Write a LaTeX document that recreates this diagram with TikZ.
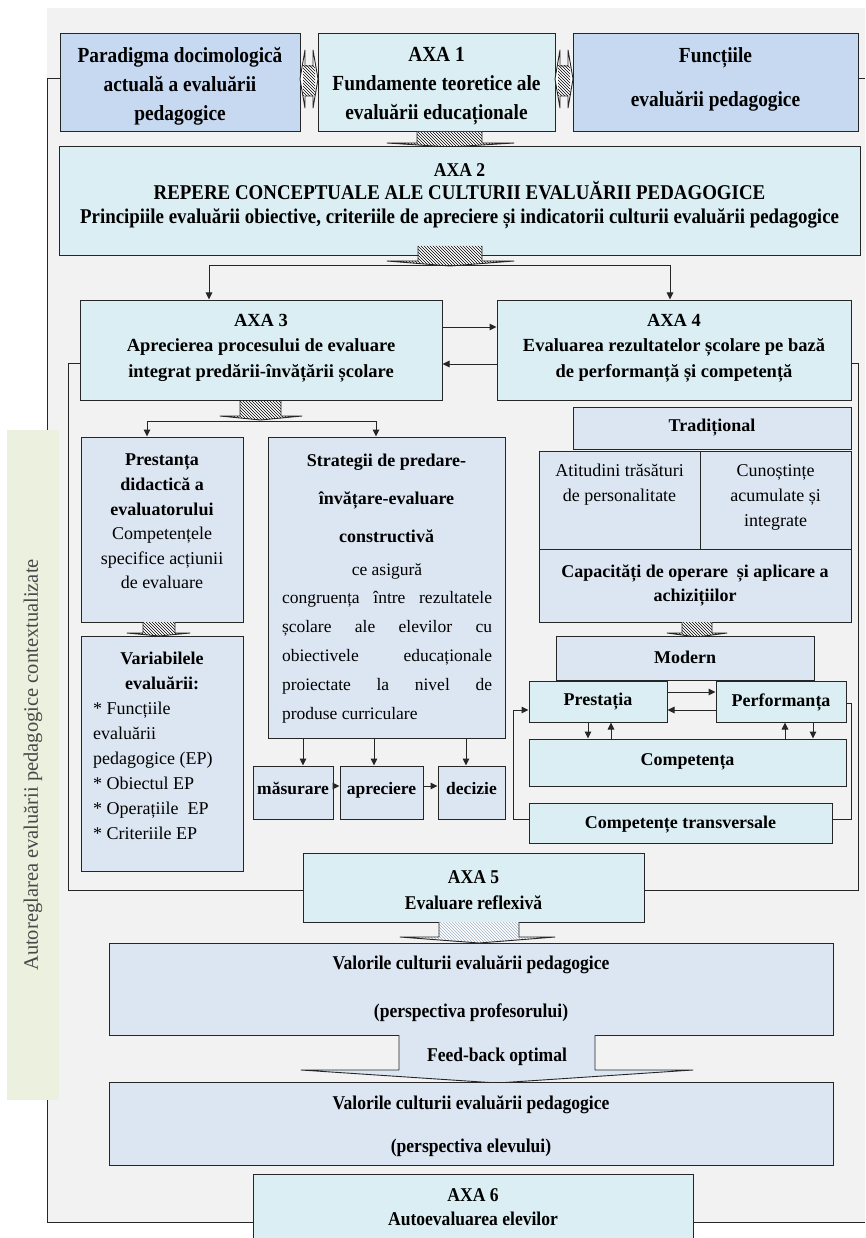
\documentclass[tikz,border=0pt]{standalone}
\usepackage{fontspec}
\setmainfont{Liberation Serif}
\newfontfamily\cnd[FakeStretch=0.9]{Liberation Serif}
\usetikzlibrary{arrows.meta,patterns}
\definecolor{bg}{HTML}{F2F2F2}
\definecolor{mblue}{HTML}{C6D9F1}
\definecolor{lcyan}{HTML}{DBEEF4}
\definecolor{lsteel}{HTML}{DCE6F2}
\definecolor{lgreen}{HTML}{EBF1DE}
\definecolor{ln}{HTML}{262626}
\definecolor{pale}{HTML}{9FB3C8}
\newcommand\fs[2]{\fontsize{#1}{#2}\selectfont}
\newcommand\bx[6]{\node[box,fill=#6,minimum width={(#4-#2)*1pt},minimum height={(#5-#3)*1pt}] (#1) at ({(#2+#4)/2},{(#3+#5)/2}) {};}
% hatched down arrow: x1,x2,ytop,ybase,hx1,hx2,tip,pattern colour
\newcommand\hdown[8]{%
 \path[fill=white] (#1,#3) -- (#2,#3) -- (#2,#4) -- (#6,#4) -- ({(#1+#2)/2},#7) -- (#5,#4) -- (#1,#4) -- cycle;
 \path[pattern=north west lines,pattern color=#8] (#1,#3) -- (#2,#3) -- (#2,#4) -- (#6,#4) -- ({(#1+#2)/2},#7) -- (#5,#4) -- (#1,#4) -- cycle;
 \draw[ln,line width=0.9pt,line join=round] (#1,#3) -- (#1,#4) -- (#5,#4) -- ({(#1+#2)/2},#7) -- (#6,#4) -- (#2,#4) -- (#2,#3);}
% hatched left-right arrow: xl,xr,yc
\newcommand\hlr[3]{%
 \path[fill=white] (#1,#3) -- ({#1+5},{#3-29}) -- ({#1+5},{#3-13}) -- ({#2-5},{#3-13}) -- ({#2-5},{#3-29}) -- (#2,#3) -- ({#2-5},{#3+29}) -- ({#2-5},{#3+17}) -- ({#1+5},{#3+17}) -- ({#1+5},{#3+29}) -- cycle;
 \path[pattern=north west lines,pattern color=black] ({#1+3},{#3-13}) rectangle ({#2-3},{#3+17});
 \draw[ln,line width=0.9pt,line join=round] (#1,#3) -- ({#1+5},{#3-29}) -- ({#1+5},{#3-13}) -- ({#2-5},{#3-13}) -- ({#2-5},{#3-29}) -- (#2,#3) -- ({#2-5},{#3+29}) -- ({#2-5},{#3+17}) -- ({#1+5},{#3+17}) -- ({#1+5},{#3+29}) -- cycle;}
\begin{document}
\begin{tikzpicture}[x=1pt,y=-1pt,
  box/.style={draw=ln,line width=1pt,inner sep=0pt},
  txt/.style={inner sep=0pt,align=center,text=black},
  conn/.style={draw=ln,line width=1pt},
  arr/.style={conn,-{Triangle[length=7pt,width=6.5pt]}},
  rowA/.style={txt,font=\cnd\bfseries\fs{21.5}{29}},
  cb/.style={txt,font=\bfseries\fs{18.5}{25.5}},
  cn/.style={txt,font=\fs{18}{25}},
  tb/.style={txt,font=\cnd\bfseries\fs{19.5}{26}},
  sb/.style={txt,font=\bfseries\fs{18}{24}}]
\useasboundingbox (0,0) rectangle (865,1238);
\fill[white] (0,0) rectangle (865,1238);
\fill[bg] (47,8) rectangle (865,1222);

% ---------- row 1
\bx{parad}{60}{34}{300}{132}{mblue}
\bx{axa1}{318}{34}{555}{132}{lcyan}
\bx{func}{573}{34}{858}{132}{mblue}
\node[rowA] (paradt) at (180,86) {Paradigma docimologică\\actuală a evaluării\\pedagogice};
\node[rowA] (axa1t) at (436.5,86) {AXA 1\\Fundamente teoretice ale\\evaluării educaționale};
\node[rowA] (funct) at (715.5,79) {Funcțiile\\[15pt]evaluării pedagogice};
\hlr{300}{318}{79}
\hlr{555}{573}{79}
\hdown{417}{482}{132}{143}{387}{514}{147}{black}

% ---------- AXA 2
\bx{axa2}{59}{147}{860}{256}{lcyan}
\node[txt,font=\cnd\bfseries\fs{20}{23.5}] (axa2t) at (459.5,196) {{\fontsize{19.5}{23.5}\selectfont AXA 2}\\{\fontsize{21}{23.5}\selectfont REPERE CONCEPTUALE ALE CULTURII EVALUĂRII PEDAGOGICE}\\{\fontsize{21}{23.5}\selectfont Principiile evaluării obiective, criteriile de apreciere și indicatorii culturii evaluării pedagogice}};
\hdown{418}{482}{246}{261}{387}{514}{266}{black}
\coordinate (br2) at (450,266);

% ---------- AXA 3 / AXA 4
\bx{axa3}{80}{300}{442}{400}{lcyan}
\bx{axa4}{497}{300}{851}{400}{lcyan}
\node[cb] (axa3t) at (261,348) {AXA 3\\Aprecierea procesului de evaluare\\integrat predării-învățării școlare};
\node[cb] (axa4t) at (674,348) {AXA 4\\Evaluarea rezultatelor școlare pe bază\\de performanță și competență};
\draw[arr] (br2) -| (axa3.north -| 209,0);
\draw[arr] (br2) -| (axa4.north -| 670,0);
\draw[arr] (axa3.east |- 0,327) -- (axa4.west |- 0,327);
\draw[arr] (axa4.west |- 0,364) -- (axa3.east |- 0,364);

% ---------- left column
\hdown{240}{281}{401}{416}{220}{302}{420}{black}
\coordinate (br3) at (261,421);
\bx{prst}{81}{437}{243}{622}{lsteel}
\bx{strat}{268}{437}{505}{738}{lsteel}
\draw[arr] (br3) -| (prst.north -| 147,0);
\draw[arr] (br3) -| (strat.north -| 376,0);
\node[txt,font=\fs{18}{24.6}] (prstt) at (162,521.5) {\textbf{Prestanța}\\\textbf{didactică a}\\\textbf{evaluatorului}\\Competențele\\specifice acțiunii\\de evaluare};
\node[txt,font=\bfseries\fs{18}{38}] (stratb) at (386.5,498) {Strategii de predare-\\învățare-evaluare\\constructivă};
\node[txt,font=\fs{17.5}{28.8}] (stratn) at (387,643) {ce asigură\\\makebox[210pt][s]{congruența între rezultatele}\\\makebox[210pt][s]{școlare ale elevilor cu}\\\makebox[210pt][s]{obiectivele educaționale}\\\makebox[210pt][s]{proiectate la nivel de}\\\makebox[210pt][l]{produse curriculare}};
\hdown{143}{175}{622}{633}{127}{190}{636}{black}
\bx{varb}{81}{636}{243}{871}{lsteel}
\node[txt,font=\bfseries\fs{18}{25}] (varbt) at (162,670.5) {Variabilele\\evaluării:};
\node[txt,align=left,anchor=west,font=\fs{18}{25}] (varbl) at (93,770.5) {* Funcțiile\\evaluării\\pedagogice (EP)\\* Obiectul EP\\* Operațiile~~EP\\* Criteriile EP};
\bx{mas}{253}{766}{333}{819}{lsteel}
\bx{apr}{340}{766}{423}{819}{lsteel}
\bx{dec}{438}{766}{505}{819}{lsteel}
\node[txt,anchor=base,font=\bfseries\fs{17.5}{20}] (mast) at (293,794) {măsurare};
\node[txt,anchor=base,font=\bfseries\fs{17.5}{20}] (aprt) at (381.5,794) {apreciere};
\node[txt,anchor=base,font=\bfseries\fs{17.5}{20}] (dect) at (471.5,794) {decizie};
\draw[arr] (strat.south -| 303,0) -- (mas.north -| 303,0);
\draw[arr] (strat.south -| 374,0) -- (apr.north -| 374,0);
\draw[arr] (strat.south -| 466,0) -- (dec.north -| 466,0);
\draw[arr] (mas.east |- 0,786) -- (apr.west |- 0,786);
\draw[arr] (apr.east |- 0,786) -- (dec.west |- 0,786);

% ---------- right column
\bx{trad}{573}{407}{851}{449}{lsteel}
\bx{atit}{539}{451}{700}{549}{lsteel}
\bx{cuno}{700}{451}{851}{549}{lsteel}
\bx{capac}{539}{549}{851}{622}{lsteel}
\node[sb] (tradt) at (712,428) {Tradițional};
\node[cn] (atitt) at (619.5,484.5) {Atitudini trăsături\\de personalitate};
\node[cn] (cunot) at (775.5,497.5) {Cunoștințe\\acumulate și\\integrate};
\node[sb] (capact) at (695,585) {Capacități de operare~ și aplicare a\\achizițiilor};
\hdown{682}{712}{622}{633}{667}{727}{637}{black}
\bx{modern}{556}{636}{814}{680}{lsteel}
\bx{prest}{529}{681}{667}{722}{lcyan}
\bx{perf}{716}{681}{846}{722}{lcyan}
\bx{comp}{529}{739}{846}{786}{lcyan}
\bx{transv}{529}{803}{832}{843}{lcyan}
\node[sb] (modernt) at (685,657) {Modern};
\node[sb] (prestt) at (598,702) {Prestația};
\node[sb] (perft) at (781,702) {Performanța};
\node[sb] (compt) at (687.5,762) {Competența};
\node[sb] (transvt) at (680.5,825) {Competențe transversale};
\draw[arr] (prest.east |- 0,692) -- (perf.west |- 0,692);
\draw[arr] (perf.west |- 0,710) -- (prest.east |- 0,710);
\draw[arr] (prest.south -| 588,0) -- (comp.north -| 588,0);
\draw[arr] (comp.north -| 611,0) -- (prest.south -| 611,0);
\draw[arr] (comp.north -| 785,0) -- (perf.south -| 785,0);
\draw[arr] (perf.south -| 813,0) -- (comp.north -| 813,0);
\coordinate (lpL) at (513,0);
\coordinate (lpR) at (851,0);
\draw[arr] (transv.west |- 0,819) -| (lpL |- 0,710) -- (prest.west |- 0,710);
\draw[conn] (perf.east |- 0,703) -| (lpR |- 0,819) -- (transv.east |- 0,819);

% ---------- AXA 5
\bx{axa5}{303}{853}{644}{922}{lcyan}
\node[tb] (axa5t) at (473.5,890) {AXA 5\\Evaluare reflexivă};
\coordinate (lp3) at (68,0);
\coordinate (lp4) at (858,0);
\draw[conn] (axa3.west |- 0,363) -| (lp3 |- 0,890) -- (axa5.west |- 0,890);
\draw[conn] (axa4.east |- 0,363) -| (lp4 |- 0,890) -- (axa5.east |- 0,890);
\hdown{439}{519}{922}{937}{400}{555}{943}{pale}

% ---------- values
\bx{val1}{109}{943}{833}{1035}{lsteel}
\node[txt,font=\cnd\bfseries\fs{19.5}{48}] (val1t) at (471,989) {Valorile culturii evaluării pedagogice\\(perspectiva profesorului)};
\path[fill=lsteel,draw=ln,line width=0.9pt,line join=round] (399,1035) -- (399,1070) -- (301,1070) -- (497,1083) -- (693,1070) -- (595,1070) -- (595,1035);
\node[txt,font=\cnd\bfseries\fs{19.5}{24}] (fbt) at (497,1057) {Feed-back optimal};
\bx{val2}{109}{1082}{833}{1165}{lsteel}
\node[txt,font=\cnd\bfseries\fs{19.5}{43}] (val2t) at (471,1126.5) {Valorile culturii evaluării pedagogice\\(perspectiva elevului)};
\bx{axa6}{253}{1174}{693}{1262}{lcyan}
\node[txt,font=\cnd\bfseries\fs{19.5}{24}] (axa6t) at (473,1207) {AXA 6\\Autoevaluarea elevilor};

% ---------- outer loop
\coordinate (oL) at (47,0);
\coordinate (oB) at (0,1222);
\coordinate (oR) at (865,0);
\draw[conn] (parad.west |- 0,79) -| (oL |- oB) -- (axa6.west |- oB);
\draw[conn] (axa6.east |- oB) -- (oR |- oB);
\draw[conn] (func.east |- 0,79) -- (oR |- 0,79);

% ---------- side label
\node[fill=lgreen,minimum width=52pt,minimum height=670pt,inner sep=0pt] (side) at (33,765) {};
\node[txt,rotate=90,text=ln!85,font=\fs{20.5}{22}] (sidet) at (side.center) {Autoreglarea evaluării pedagogice contextualizate};
\end{tikzpicture}
\end{document}
